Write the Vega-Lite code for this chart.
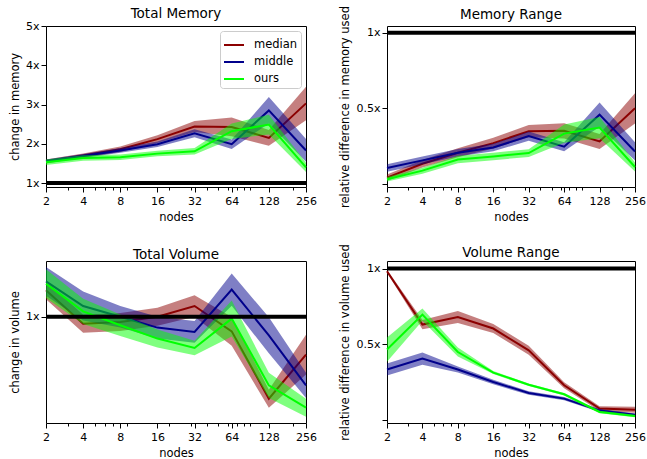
{
  "$schema": "https://vega.github.io/schema/vega-lite/v6.json",
  "background": "white",
  "padding": {"left": 8, "top": 5, "right": 0, "bottom": 0},
  "datasets": {
    "d": [
      {"panel": "mem", "series": "median", "x": 2, "y": 1.55, "lo": 1.50, "hi": 1.60},
      {"panel": "mem", "series": "median", "x": 4, "y": 1.70, "lo": 1.65, "hi": 1.75},
      {"panel": "mem", "series": "median", "x": 8, "y": 1.86, "lo": 1.79, "hi": 1.93},
      {"panel": "mem", "series": "median", "x": 16, "y": 2.12, "lo": 2.02, "hi": 2.22},
      {"panel": "mem", "series": "median", "x": 32, "y": 2.44, "lo": 2.30, "hi": 2.58},
      {"panel": "mem", "series": "median", "x": 64, "y": 2.43, "lo": 2.19, "hi": 2.67},
      {"panel": "mem", "series": "median", "x": 128, "y": 2.15, "lo": 1.95, "hi": 2.35},
      {"panel": "mem", "series": "median", "x": 256, "y": 3.03, "lo": 2.60, "hi": 3.45},
      {"panel": "mem", "series": "middle", "x": 2, "y": 1.56, "lo": 1.52, "hi": 1.60},
      {"panel": "mem", "series": "middle", "x": 4, "y": 1.69, "lo": 1.64, "hi": 1.74},
      {"panel": "mem", "series": "middle", "x": 8, "y": 1.83, "lo": 1.77, "hi": 1.89},
      {"panel": "mem", "series": "middle", "x": 16, "y": 1.99, "lo": 1.92, "hi": 2.06},
      {"panel": "mem", "series": "middle", "x": 32, "y": 2.27, "lo": 2.17, "hi": 2.37},
      {"panel": "mem", "series": "middle", "x": 64, "y": 1.99, "lo": 1.87, "hi": 2.11},
      {"panel": "mem", "series": "middle", "x": 128, "y": 2.85, "lo": 2.52, "hi": 3.19},
      {"panel": "mem", "series": "middle", "x": 256, "y": 1.83, "lo": 1.54, "hi": 2.12},
      {"panel": "mem", "series": "ours", "x": 2, "y": 1.53, "lo": 1.46, "hi": 1.60},
      {"panel": "mem", "series": "ours", "x": 4, "y": 1.64, "lo": 1.57, "hi": 1.71},
      {"panel": "mem", "series": "ours", "x": 8, "y": 1.66, "lo": 1.59, "hi": 1.73},
      {"panel": "mem", "series": "ours", "x": 16, "y": 1.75, "lo": 1.68, "hi": 1.82},
      {"panel": "mem", "series": "ours", "x": 32, "y": 1.81, "lo": 1.73, "hi": 1.89},
      {"panel": "mem", "series": "ours", "x": 64, "y": 2.32, "lo": 2.12, "hi": 2.52},
      {"panel": "mem", "series": "ours", "x": 128, "y": 2.49, "lo": 2.24, "hi": 2.74},
      {"panel": "mem", "series": "ours", "x": 256, "y": 1.40, "lo": 1.28, "hi": 1.52},

      {"panel": "mrange", "series": "median", "x": 2, "y": 0.042, "lo": 0.022, "hi": 0.062},
      {"panel": "mrange", "series": "median", "x": 4, "y": 0.134, "lo": 0.109, "hi": 0.159},
      {"panel": "mrange", "series": "median", "x": 8, "y": 0.206, "lo": 0.176, "hi": 0.236},
      {"panel": "mrange", "series": "median", "x": 16, "y": 0.27, "lo": 0.235, "hi": 0.305},
      {"panel": "mrange", "series": "median", "x": 32, "y": 0.349, "lo": 0.309, "hi": 0.389},
      {"panel": "mrange", "series": "median", "x": 64, "y": 0.351, "lo": 0.301, "hi": 0.401},
      {"panel": "mrange", "series": "median", "x": 128, "y": 0.281, "lo": 0.231, "hi": 0.331},
      {"panel": "mrange", "series": "median", "x": 256, "y": 0.5, "lo": 0.40, "hi": 0.60},
      {"panel": "mrange", "series": "middle", "x": 2, "y": 0.105, "lo": 0.08, "hi": 0.13},
      {"panel": "mrange", "series": "middle", "x": 4, "y": 0.156, "lo": 0.131, "hi": 0.181},
      {"panel": "mrange", "series": "middle", "x": 8, "y": 0.206, "lo": 0.181, "hi": 0.231},
      {"panel": "mrange", "series": "middle", "x": 16, "y": 0.241, "lo": 0.216, "hi": 0.266},
      {"panel": "mrange", "series": "middle", "x": 32, "y": 0.316, "lo": 0.286, "hi": 0.346},
      {"panel": "mrange", "series": "middle", "x": 64, "y": 0.246, "lo": 0.216, "hi": 0.276},
      {"panel": "mrange", "series": "middle", "x": 128, "y": 0.458, "lo": 0.378, "hi": 0.538},
      {"panel": "mrange", "series": "middle", "x": 256, "y": 0.215, "lo": 0.155, "hi": 0.275},
      {"panel": "mrange", "series": "ours", "x": 2, "y": 0.031, "lo": 0.016, "hi": 0.046},
      {"panel": "mrange", "series": "ours", "x": 4, "y": 0.088, "lo": 0.068, "hi": 0.108},
      {"panel": "mrange", "series": "ours", "x": 8, "y": 0.162, "lo": 0.137, "hi": 0.187},
      {"panel": "mrange", "series": "ours", "x": 16, "y": 0.182, "lo": 0.157, "hi": 0.207},
      {"panel": "mrange", "series": "ours", "x": 32, "y": 0.204, "lo": 0.179, "hi": 0.229},
      {"panel": "mrange", "series": "ours", "x": 64, "y": 0.333, "lo": 0.273, "hi": 0.393},
      {"panel": "mrange", "series": "ours", "x": 128, "y": 0.373, "lo": 0.303, "hi": 0.443},
      {"panel": "mrange", "series": "ours", "x": 256, "y": 0.112, "lo": 0.082, "hi": 0.142},

      {"panel": "vol", "series": "median", "x": 2, "y": 1.147, "lo": 1.097, "hi": 1.197},
      {"panel": "vol", "series": "median", "x": 4, "y": 0.962, "lo": 0.912, "hi": 1.012},
      {"panel": "vol", "series": "median", "x": 8, "y": 0.971, "lo": 0.921, "hi": 1.021},
      {"panel": "vol", "series": "median", "x": 16, "y": 1.0, "lo": 0.95, "hi": 1.05},
      {"panel": "vol", "series": "median", "x": 32, "y": 1.06, "lo": 1.0, "hi": 1.12},
      {"panel": "vol", "series": "median", "x": 64, "y": 0.919, "lo": 0.839, "hi": 0.999},
      {"panel": "vol", "series": "median", "x": 128, "y": 0.545, "lo": 0.495, "hi": 0.595},
      {"panel": "vol", "series": "median", "x": 256, "y": 0.79, "lo": 0.68, "hi": 0.90},
      {"panel": "vol", "series": "middle", "x": 2, "y": 1.197, "lo": 1.117, "hi": 1.277},
      {"panel": "vol", "series": "middle", "x": 4, "y": 1.06, "lo": 0.98, "hi": 1.14},
      {"panel": "vol", "series": "middle", "x": 8, "y": 1.0, "lo": 0.94, "hi": 1.06},
      {"panel": "vol", "series": "middle", "x": 16, "y": 0.94, "lo": 0.88, "hi": 1.0},
      {"panel": "vol", "series": "middle", "x": 32, "y": 0.916, "lo": 0.856, "hi": 0.976},
      {"panel": "vol", "series": "middle", "x": 64, "y": 1.151, "lo": 1.061, "hi": 1.241},
      {"panel": "vol", "series": "middle", "x": 128, "y": 0.897, "lo": 0.797, "hi": 0.997},
      {"panel": "vol", "series": "middle", "x": 256, "y": 0.619, "lo": 0.549, "hi": 0.689},
      {"panel": "vol", "series": "ours", "x": 2, "y": 1.184, "lo": 1.104, "hi": 1.264},
      {"panel": "vol", "series": "ours", "x": 4, "y": 1.03, "lo": 0.96, "hi": 1.10},
      {"panel": "vol", "series": "ours", "x": 8, "y": 0.953, "lo": 0.893, "hi": 1.013},
      {"panel": "vol", "series": "ours", "x": 16, "y": 0.879, "lo": 0.829, "hi": 0.929},
      {"panel": "vol", "series": "ours", "x": 32, "y": 0.827, "lo": 0.787, "hi": 0.867},
      {"panel": "vol", "series": "ours", "x": 64, "y": 0.99, "lo": 0.89, "hi": 1.09},
      {"panel": "vol", "series": "ours", "x": 128, "y": 0.619, "lo": 0.549, "hi": 0.689},
      {"panel": "vol", "series": "ours", "x": 256, "y": 0.495, "lo": 0.445, "hi": 0.545},

      {"panel": "vrange", "series": "median", "x": 2, "y": 0.982, "lo": 0.972, "hi": 0.992},
      {"panel": "vrange", "series": "median", "x": 4, "y": 0.63, "lo": 0.60, "hi": 0.66},
      {"panel": "vrange", "series": "median", "x": 8, "y": 0.68, "lo": 0.64, "hi": 0.72},
      {"panel": "vrange", "series": "median", "x": 16, "y": 0.604, "lo": 0.574, "hi": 0.634},
      {"panel": "vrange", "series": "median", "x": 32, "y": 0.46, "lo": 0.43, "hi": 0.49},
      {"panel": "vrange", "series": "median", "x": 64, "y": 0.229, "lo": 0.209, "hi": 0.249},
      {"panel": "vrange", "series": "median", "x": 128, "y": 0.075, "lo": 0.06, "hi": 0.09},
      {"panel": "vrange", "series": "median", "x": 256, "y": 0.068, "lo": 0.048, "hi": 0.088},
      {"panel": "vrange", "series": "middle", "x": 2, "y": 0.333, "lo": 0.293, "hi": 0.373},
      {"panel": "vrange", "series": "middle", "x": 4, "y": 0.405, "lo": 0.365, "hi": 0.445},
      {"panel": "vrange", "series": "middle", "x": 8, "y": 0.333, "lo": 0.313, "hi": 0.353},
      {"panel": "vrange", "series": "middle", "x": 16, "y": 0.251, "lo": 0.236, "hi": 0.266},
      {"panel": "vrange", "series": "middle", "x": 32, "y": 0.178, "lo": 0.166, "hi": 0.19},
      {"panel": "vrange", "series": "middle", "x": 64, "y": 0.141, "lo": 0.131, "hi": 0.151},
      {"panel": "vrange", "series": "middle", "x": 128, "y": 0.062, "lo": 0.052, "hi": 0.072},
      {"panel": "vrange", "series": "middle", "x": 256, "y": 0.035, "lo": 0.027, "hi": 0.043},
      {"panel": "vrange", "series": "ours", "x": 2, "y": 0.465, "lo": 0.385, "hi": 0.545},
      {"panel": "vrange", "series": "ours", "x": 4, "y": 0.696, "lo": 0.656, "hi": 0.736},
      {"panel": "vrange", "series": "ours", "x": 8, "y": 0.449, "lo": 0.419, "hi": 0.479},
      {"panel": "vrange", "series": "ours", "x": 16, "y": 0.313, "lo": 0.303, "hi": 0.323},
      {"panel": "vrange", "series": "ours", "x": 32, "y": 0.233, "lo": 0.225, "hi": 0.241},
      {"panel": "vrange", "series": "ours", "x": 64, "y": 0.17, "lo": 0.162, "hi": 0.178},
      {"panel": "vrange", "series": "ours", "x": 128, "y": 0.053, "lo": 0.045, "hi": 0.061},
      {"panel": "vrange", "series": "ours", "x": 256, "y": 0.026, "lo": 0.018, "hi": 0.034}
    ],
    "one": [{"ref": 1}],
    "minor": [{"m": 3}, {"m": 5}, {"m": 6}, {"m": 7}, {"m": 9}, {"m": 20}, {"m": 30}, {"m": 40}, {"m": 50}, {"m": 60}, {"m": 70}, {"m": 80}, {"m": 90}, {"m": 200}]
  },
  "columns": 2,
  "spacing": {"row": 74, "column": 81},
  "bounds": "flush",
  "resolve": {"scale": {"color": "independent", "y": "independent", "x": "independent"}, "legend": {"color": "independent"}},
  "concat": [
    {
      "width": 260, "height": 161,
      "title": {"text": "Total Memory", "offset": 0},
      "data": {"name": "d"},
      "transform": [{"filter": "datum.panel === 'mem'"}],
      "resolve": {"axis": {"x": "independent"}},
      "layer": [
        {
          "transform": [{"filter": "datum.series === 'median'"}],
          "mark": {"type": "area", "opacity": 0.5},
          "encoding": {
            "x": {"field": "x", "type": "quantitative", "scale": {"type": "log", "base": 2, "domain": [2, 256], "nice": false}, "axis": {"values": [2, 4, 8, 16, 32, 64, 128, 256], "format": "d", "title": "nodes", "orient": "bottom", "labelPadding": 3, "titlePadding": 5}},
            "y": {"field": "lo", "type": "quantitative", "scale": {"domain": [0.9, 5], "nice": false, "zero": false}, "axis": {"values": [1, 2, 3, 4, 5], "labelExpr": "datum.value + 'x'", "title": "change in memory"}},
            "y2": {"field": "hi"},
            "color": {"field": "series", "type": "nominal", "scale": {"domain": ["median", "middle", "ours"], "range": ["#8b0000", "#00008b", "#00ff00"]}, "legend": {"title": null, "orient": "top-right", "symbolType": "stroke", "symbolOpacity": 1}}
          }
        },
        {
          "transform": [{"filter": "datum.series === 'median'"}],
          "mark": {"type": "line", "strokeWidth": 2},
          "encoding": {"x": {"field": "x", "type": "quantitative", "axis": null}, "y": {"field": "y", "type": "quantitative"}, "color": {"field": "series", "type": "nominal"}}
        },
        {
          "transform": [{"filter": "datum.series === 'middle'"}],
          "mark": {"type": "area", "opacity": 0.5},
          "encoding": {"x": {"field": "x", "type": "quantitative", "axis": null}, "y": {"field": "lo", "type": "quantitative"}, "y2": {"field": "hi"}, "color": {"field": "series", "type": "nominal"}}
        },
        {
          "transform": [{"filter": "datum.series === 'middle'"}],
          "mark": {"type": "line", "strokeWidth": 2},
          "encoding": {"x": {"field": "x", "type": "quantitative", "axis": null}, "y": {"field": "y", "type": "quantitative"}, "color": {"field": "series", "type": "nominal"}}
        },
        {
          "transform": [{"filter": "datum.series === 'ours'"}],
          "mark": {"type": "area", "opacity": 0.5},
          "encoding": {"x": {"field": "x", "type": "quantitative", "axis": null}, "y": {"field": "lo", "type": "quantitative"}, "y2": {"field": "hi"}, "color": {"field": "series", "type": "nominal"}}
        },
        {
          "transform": [{"filter": "datum.series === 'ours'"}],
          "mark": {"type": "line", "strokeWidth": 2},
          "encoding": {"x": {"field": "x", "type": "quantitative", "axis": null}, "y": {"field": "y", "type": "quantitative"}, "color": {"field": "series", "type": "nominal"}}
        },
        {
          "data": {"name": "minor"},
          "mark": {"type": "point", "opacity": 0},
          "encoding": {"x": {"field": "m", "type": "quantitative", "axis": {"values": [3, 5, 6, 7, 9, 20, 30, 40, 50, 60, 70, 80, 90, 200], "labels": false, "tickSize": 3, "title": null, "orient": "bottom"}}}
        },
        {
          "data": {"name": "one"},
          "mark": {"type": "rule", "color": "black", "strokeWidth": 4},
          "encoding": {"y": {"field": "ref", "type": "quantitative"}}
        }
      ]
    },
    {
      "width": 248, "height": 161,
      "title": {"text": "Memory Range", "offset": -16},
      "data": {"name": "d"},
      "transform": [{"filter": "datum.panel === 'mrange'"}],
      "resolve": {"axis": {"x": "independent"}},
      "layer": [
        {
          "transform": [{"filter": "datum.series === 'median'"}],
          "mark": {"type": "area", "opacity": 0.5},
          "encoding": {
            "x": {"field": "x", "type": "quantitative", "scale": {"type": "log", "base": 2, "domain": [2, 256], "nice": false}, "axis": {"values": [2, 4, 8, 16, 32, 64, 128, 256], "format": "d", "title": "nodes", "orient": "bottom", "labelPadding": 3, "titlePadding": 5}},
            "y": {"field": "lo", "type": "quantitative", "scale": {"domain": [-0.02, 1.044], "nice": false, "zero": false}, "axis": {"values": [0, 0.5, 1], "labelExpr": "datum.value == 0 ? '' : datum.value + 'x'", "title": "relative difference in memory used"}},
            "y2": {"field": "hi"},
            "color": {"field": "series", "type": "nominal", "scale": {"domain": ["median", "middle", "ours"], "range": ["#8b0000", "#00008b", "#00ff00"]}, "legend": null}
          }
        },
        {
          "transform": [{"filter": "datum.series === 'median'"}],
          "mark": {"type": "line", "strokeWidth": 2},
          "encoding": {"x": {"field": "x", "type": "quantitative", "axis": null}, "y": {"field": "y", "type": "quantitative"}, "color": {"field": "series", "type": "nominal", "legend": null}}
        },
        {
          "transform": [{"filter": "datum.series === 'middle'"}],
          "mark": {"type": "area", "opacity": 0.5},
          "encoding": {"x": {"field": "x", "type": "quantitative", "axis": null}, "y": {"field": "lo", "type": "quantitative"}, "y2": {"field": "hi"}, "color": {"field": "series", "type": "nominal", "legend": null}}
        },
        {
          "transform": [{"filter": "datum.series === 'middle'"}],
          "mark": {"type": "line", "strokeWidth": 2},
          "encoding": {"x": {"field": "x", "type": "quantitative", "axis": null}, "y": {"field": "y", "type": "quantitative"}, "color": {"field": "series", "type": "nominal", "legend": null}}
        },
        {
          "transform": [{"filter": "datum.series === 'ours'"}],
          "mark": {"type": "area", "opacity": 0.5},
          "encoding": {"x": {"field": "x", "type": "quantitative", "axis": null}, "y": {"field": "lo", "type": "quantitative"}, "y2": {"field": "hi"}, "color": {"field": "series", "type": "nominal", "legend": null}}
        },
        {
          "transform": [{"filter": "datum.series === 'ours'"}],
          "mark": {"type": "line", "strokeWidth": 2},
          "encoding": {"x": {"field": "x", "type": "quantitative", "axis": null}, "y": {"field": "y", "type": "quantitative"}, "color": {"field": "series", "type": "nominal", "legend": null}}
        },
        {
          "data": {"name": "minor"},
          "mark": {"type": "point", "opacity": 0},
          "encoding": {"x": {"field": "m", "type": "quantitative", "axis": {"values": [3, 5, 6, 7, 9, 20, 30, 40, 50, 60, 70, 80, 90, 200], "labels": false, "tickSize": 3, "title": null, "orient": "bottom"}}}
        },
        {
          "data": {"name": "one"},
          "mark": {"type": "rule", "color": "black", "strokeWidth": 4},
          "encoding": {"y": {"field": "ref", "type": "quantitative"}}
        }
      ]
    },
    {
      "width": 260, "height": 162,
      "title": {"text": "Total Volume", "offset": 0},
      "data": {"name": "d"},
      "transform": [{"filter": "datum.panel === 'vol'"}],
      "resolve": {"axis": {"x": "independent"}},
      "layer": [
        {
          "transform": [{"filter": "datum.series === 'median'"}],
          "mark": {"type": "area", "opacity": 0.5},
          "encoding": {
            "x": {"field": "x", "type": "quantitative", "scale": {"type": "log", "base": 2, "domain": [2, 256], "nice": false}, "axis": {"values": [2, 4, 8, 16, 32, 64, 128, 256], "format": "d", "title": "nodes", "orient": "bottom", "labelPadding": 3, "titlePadding": 5}},
            "y": {"field": "lo", "type": "quantitative", "scale": {"domain": [0.41, 1.31], "nice": false, "zero": false}, "axis": {"values": [1], "labelExpr": "datum.value + 'x'", "title": "change in volume"}},
            "y2": {"field": "hi"},
            "color": {"field": "series", "type": "nominal", "scale": {"domain": ["median", "middle", "ours"], "range": ["#8b0000", "#00008b", "#00ff00"]}, "legend": null}
          }
        },
        {
          "transform": [{"filter": "datum.series === 'median'"}],
          "mark": {"type": "line", "strokeWidth": 2},
          "encoding": {"x": {"field": "x", "type": "quantitative", "axis": null}, "y": {"field": "y", "type": "quantitative"}, "color": {"field": "series", "type": "nominal", "legend": null}}
        },
        {
          "transform": [{"filter": "datum.series === 'middle'"}],
          "mark": {"type": "area", "opacity": 0.5},
          "encoding": {"x": {"field": "x", "type": "quantitative", "axis": null}, "y": {"field": "lo", "type": "quantitative"}, "y2": {"field": "hi"}, "color": {"field": "series", "type": "nominal", "legend": null}}
        },
        {
          "transform": [{"filter": "datum.series === 'middle'"}],
          "mark": {"type": "line", "strokeWidth": 2},
          "encoding": {"x": {"field": "x", "type": "quantitative", "axis": null}, "y": {"field": "y", "type": "quantitative"}, "color": {"field": "series", "type": "nominal", "legend": null}}
        },
        {
          "transform": [{"filter": "datum.series === 'ours'"}],
          "mark": {"type": "area", "opacity": 0.5},
          "encoding": {"x": {"field": "x", "type": "quantitative", "axis": null}, "y": {"field": "lo", "type": "quantitative"}, "y2": {"field": "hi"}, "color": {"field": "series", "type": "nominal", "legend": null}}
        },
        {
          "transform": [{"filter": "datum.series === 'ours'"}],
          "mark": {"type": "line", "strokeWidth": 2},
          "encoding": {"x": {"field": "x", "type": "quantitative", "axis": null}, "y": {"field": "y", "type": "quantitative"}, "color": {"field": "series", "type": "nominal", "legend": null}}
        },
        {
          "data": {"name": "minor"},
          "mark": {"type": "point", "opacity": 0},
          "encoding": {"x": {"field": "m", "type": "quantitative", "axis": {"values": [3, 5, 6, 7, 9, 20, 30, 40, 50, 60, 70, 80, 90, 200], "labels": false, "tickSize": 3, "title": null, "orient": "bottom"}}}
        },
        {
          "data": {"name": "one"},
          "mark": {"type": "rule", "color": "black", "strokeWidth": 4},
          "encoding": {"y": {"field": "ref", "type": "quantitative"}}
        }
      ]
    },
    {
      "width": 248, "height": 162,
      "title": {"text": "Volume Range", "offset": -16},
      "data": {"name": "d"},
      "transform": [{"filter": "datum.panel === 'vrange'"}],
      "resolve": {"axis": {"x": "independent"}},
      "layer": [
        {
          "transform": [{"filter": "datum.series === 'median'"}],
          "mark": {"type": "area", "opacity": 0.5},
          "encoding": {
            "x": {"field": "x", "type": "quantitative", "scale": {"type": "log", "base": 2, "domain": [2, 256], "nice": false}, "axis": {"values": [2, 4, 8, 16, 32, 64, 128, 256], "format": "d", "title": "nodes", "orient": "bottom", "labelPadding": 3, "titlePadding": 5}},
            "y": {"field": "lo", "type": "quantitative", "scale": {"domain": [-0.02, 1.05], "nice": false, "zero": false}, "axis": {"values": [0, 0.5, 1], "labelExpr": "datum.value == 0 ? '' : datum.value + 'x'", "title": "relative difference in volume used"}},
            "y2": {"field": "hi"},
            "color": {"field": "series", "type": "nominal", "scale": {"domain": ["median", "middle", "ours"], "range": ["#8b0000", "#00008b", "#00ff00"]}, "legend": null}
          }
        },
        {
          "transform": [{"filter": "datum.series === 'median'"}],
          "mark": {"type": "line", "strokeWidth": 2},
          "encoding": {"x": {"field": "x", "type": "quantitative", "axis": null}, "y": {"field": "y", "type": "quantitative"}, "color": {"field": "series", "type": "nominal", "legend": null}}
        },
        {
          "transform": [{"filter": "datum.series === 'middle'"}],
          "mark": {"type": "area", "opacity": 0.5},
          "encoding": {"x": {"field": "x", "type": "quantitative", "axis": null}, "y": {"field": "lo", "type": "quantitative"}, "y2": {"field": "hi"}, "color": {"field": "series", "type": "nominal", "legend": null}}
        },
        {
          "transform": [{"filter": "datum.series === 'middle'"}],
          "mark": {"type": "line", "strokeWidth": 2},
          "encoding": {"x": {"field": "x", "type": "quantitative", "axis": null}, "y": {"field": "y", "type": "quantitative"}, "color": {"field": "series", "type": "nominal", "legend": null}}
        },
        {
          "transform": [{"filter": "datum.series === 'ours'"}],
          "mark": {"type": "area", "opacity": 0.5},
          "encoding": {"x": {"field": "x", "type": "quantitative", "axis": null}, "y": {"field": "lo", "type": "quantitative"}, "y2": {"field": "hi"}, "color": {"field": "series", "type": "nominal", "legend": null}}
        },
        {
          "transform": [{"filter": "datum.series === 'ours'"}],
          "mark": {"type": "line", "strokeWidth": 2},
          "encoding": {"x": {"field": "x", "type": "quantitative", "axis": null}, "y": {"field": "y", "type": "quantitative"}, "color": {"field": "series", "type": "nominal", "legend": null}}
        },
        {
          "data": {"name": "minor"},
          "mark": {"type": "point", "opacity": 0},
          "encoding": {"x": {"field": "m", "type": "quantitative", "axis": {"values": [3, 5, 6, 7, 9, 20, 30, 40, 50, 60, 70, 80, 90, 200], "labels": false, "tickSize": 3, "title": null, "orient": "bottom"}}}
        },
        {
          "data": {"name": "one"},
          "mark": {"type": "rule", "color": "black", "strokeWidth": 4},
          "encoding": {"y": {"field": "ref", "type": "quantitative"}}
        }
      ]
    }
  ],
  "config": {
    "font": "DejaVu Sans",
    "view": {"stroke": "black", "strokeWidth": 1},
    "axis": {
      "grid": false, "domain": false, "tickColor": "black", "tickSize": 5, "tickWidth": 1,
      "labelColor": "black", "labelFontSize": 11, "labelFont": "DejaVu Sans",
      "titleColor": "black", "titleFontSize": 11.5, "titleFontWeight": "normal", "titleFont": "DejaVu Sans",
      "labelFlush": false, "labelOverlap": false
    },
    "axisY": {"labelPadding": 2, "titlePadding": 5},
    "title": {"fontSize": 13.5, "fontWeight": "normal", "font": "DejaVu Sans", "color": "black"},
    "legend": {
      "labelFontSize": 11.5, "labelFont": "DejaVu Sans", "labelColor": "black",
      "strokeColor": "#cccccc", "fillColor": "white", "cornerRadius": 3, "padding": 3,
      "offset": 5, "symbolSize": 400, "symbolStrokeWidth": 2, "symbolOpacity": 1, "rowPadding": 0, "labelOffset": 9
    }
  }
}
